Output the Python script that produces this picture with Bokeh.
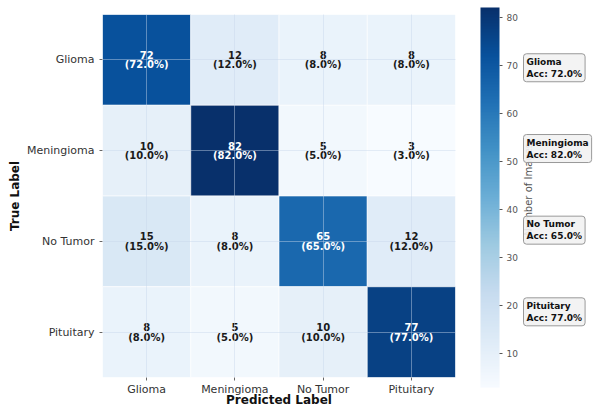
import math
from bokeh.plotting import figure
from bokeh.layouts import row
from bokeh.models import (ColumnDataSource, LinearColorMapper, ColorBar, FixedTicker,
                          Label, Range1d)
from bokeh.palettes import Blues256
from bokeh.transform import transform
from bokeh.embed import file_html
from bokeh.resources import INLINE
from bokeh.core.properties import value

# ---- data ----
classes = ["Glioma", "Meningioma", "No Tumor", "Pituitary"]
row_glioma = [72, 12, 8, 8]
row_meningioma = [10, 82, 5, 3]
row_notumor = [15, 8, 65, 12]
row_pituitary = [8, 5, 10, 77]
accuracies = [72.0, 82.0, 65.0, 77.0]
cbar_ticks = [10, 20, 30, 40, 50, 60, 70, 80]

matrix = [row_glioma, row_meningioma, row_notumor, row_pituitary]
vmin = min(min(r) for r in matrix)
vmax = max(max(r) for r in matrix)

xs, ys, vals, counts, pcts, tcolors = [], [], [], [], [], []
for i, t in enumerate(classes):
    tot = sum(matrix[i])
    for j, pr in enumerate(classes):
        v = matrix[i][j]
        xs.append(pr)
        ys.append(t)
        vals.append(v)
        counts.append(str(v))
        pcts.append("(%.1f%%)" % (100.0 * v / tot))
        tcolors.append("white" if v > (vmin + vmax) / 2 else "#1a1a1a")

src = ColumnDataSource(dict(x=xs, y=ys, v=vals, c=counts, p=pcts, tc=tcolors))


def lum(h):
    h = h.lstrip("#")
    return sum(int(h[k:k + 2], 16) for k in (0, 2, 4))


pal = list(Blues256)
if lum(pal[0]) < lum(pal[-1]):
    pal = pal[::-1]
mapper = LinearColorMapper(palette=pal, low=vmin, high=vmax)

FONT = "DejaVu Sans"

# ---- main heatmap ----
p = figure(width=520, height=409, x_range=classes, y_range=classes[::-1],
           output_backend="svg", toolbar_location=None,
           min_border_left=102, min_border_right=58, min_border_top=14,
           min_border_bottom=29)
p.outline_line_color = None

p.rect(x="x", y="y", width=1, height=1, source=src,
       fill_color=transform("v", mapper), line_color="white", line_width=0.6)

p.text(x="x", y="y", text="c", source=src, text_color="tc",
       text_font=value(FONT), text_font_style="bold",
       text_font_size="10px", text_align="center", text_baseline="middle",
       y_offset=-5)
p.text(x="x", y="y", text="p", source=src, text_color="tc",
       text_font=value(FONT), text_font_style="bold",
       text_font_size="10px", text_align="center", text_baseline="middle",
       y_offset=5)

for ax in (p.xaxis[0], p.yaxis[0]):
    ax.axis_line_color = None
    ax.major_tick_line_color = "#666666"
    ax.major_tick_out = 3
    ax.major_tick_in = 0
    ax.major_label_text_font = FONT
    ax.major_label_text_font_size = "11px"
    ax.major_label_text_color = "#333333"
    ax.major_label_standoff = 5
    ax.axis_label_text_font = FONT
    ax.axis_label_text_font_style = "bold"
    ax.axis_label_text_font_size = "12px"
    ax.axis_label_text_color = "#111111"
p.xaxis.axis_label = "Predicted Label"
p.yaxis.axis_label = "True Label"
p.xaxis.major_label_standoff = 2
p.xaxis.axis_label_standoff = -6
p.yaxis.axis_label_standoff = 2

for g in (p.xgrid[0], p.ygrid[0]):
    g.grid_line_color = "#c8d8ec"
    g.grid_line_alpha = 0.45
    g.grid_line_width = 1
    g.level = "overlay"

cb = ColorBar(color_mapper=mapper, width=19, height=380,
              ticker=FixedTicker(ticks=cbar_ticks),
              major_label_text_font=FONT,
              major_label_text_font_size="9px",
              major_label_text_color="#555555",
              major_tick_line_color="#555555",
              major_tick_in=0, major_tick_out=3,
              label_standoff=4, padding=0, margin=0,
              bar_line_color=None, border_line_color=None,
              background_fill_alpha=0,
              location=(25, -10))
p.add_layout(cb, "right")

# ---- right strip: colorbar title + accuracy boxes ----
r = figure(width=75, height=409, x_range=Range1d(0, 75), y_range=Range1d(409, 0),
           output_backend="svg", toolbar_location=None,
           min_border_left=0, min_border_right=0, min_border_top=0,
           min_border_bottom=0, x_axis_type=None, y_axis_type=None)
r.outline_line_color = None
r.xgrid.visible = False
r.ygrid.visible = False

r.add_layout(Label(x=8, y=197, text="Number of Images", text_align="center",
                   text_baseline="middle", text_font=FONT,
                   text_font_size="10px", text_color="#555555",
                   angle=math.pi / 2))

row_centers = [60, 151, 243, 335]
for i, c in enumerate(classes):
    r.add_layout(Label(x=3, y=row_centers[i], text="%s\nAcc: %.1f%%" % (c, accuracies[i]),
                       text_align="left", text_baseline="middle",
                       text_font=FONT, text_font_style="bold",
                       text_font_size="9px", text_color="#111111",
                       background_fill_color="#f2f2f2", background_fill_alpha=0.9,
                       border_line_color="#999999", border_line_width=1,
                       border_radius=3, padding=3))

layout = row(p, r, spacing=0)
open("out.html", "w").write(file_html(layout, INLINE))
